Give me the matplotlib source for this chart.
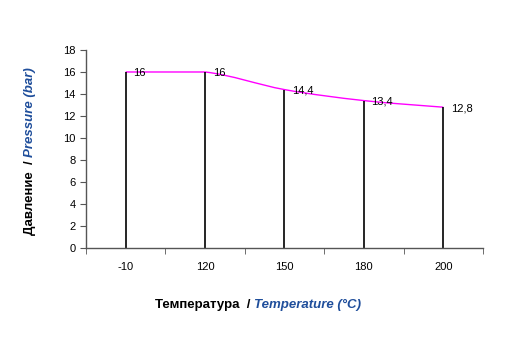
import numpy as np
import matplotlib
matplotlib.use("Agg")
import matplotlib.pyplot as plt
from matplotlib.path import Path
from matplotlib.patches import PathPatch

plt.rcParams["font.family"] = ["Liberation Sans", "DejaVu Sans"]

temps = ["-10", "120", "150", "180", "200"]
pressure = [16, 16, 14.4, 13.4, 12.8]
labels = ["16", "16", "14,4", "13,4", "12,8"]

BLUE = "#1f4e9b"


def smooth_path(x, y, k=1 / 6):
    # smoothed line like Excel: Catmull-Rom as cubic Bezier, control points
    # clamped to the segment so flat parts stay flat
    x = np.asarray(x, float)
    y = np.asarray(y, float)
    verts = [(x[0], y[0])]
    codes = [Path.MOVETO]
    n = len(x)
    for i in range(n - 1):
        p0 = i - 1 if i > 0 else i
        p3 = i + 2 if i + 2 < n else i + 1
        lo, hi = min(y[i], y[i + 1]), max(y[i], y[i + 1])
        c1y = np.clip(y[i] + (y[i + 1] - y[p0]) * k, lo, hi)
        c2y = np.clip(y[i + 1] - (y[p3] - y[i]) * k, lo, hi)
        c1 = (x[i] + (x[i + 1] - x[p0]) * k, c1y)
        c2 = (x[i + 1] - (x[p3] - x[i]) * k, c2y)
        verts += [c1, c2, (x[i + 1], y[i + 1])]
        codes += [Path.CURVE4] * 3
    return Path(verts, codes)


fig = plt.figure(figsize=(5.25, 3.54), dpi=100)
ax = fig.add_axes([0.1638, 0.2994, 0.7562, 0.5594])

pos = np.arange(len(temps))
ax.vlines(pos, 0, pressure, color="black", lw=1.2)
ax.add_patch(PathPatch(smooth_path(pos, pressure), fill=False,
                       edgecolor="#ff00ff", lw=1.0))

for p, v, s in zip(pos, pressure, labels):
    ax.annotate(s, (p, v), xytext=(5.5, -1), textcoords="offset points",
                ha="left", va="center", fontsize=8)

ax.set_xlim(-0.5, len(temps) - 0.5)
ax.set_ylim(0, 18)
ax.set_yticks(range(0, 19, 2))
ax.set_xticks(pos)
ax.set_xticklabels(temps)
ax.set_xticks(np.arange(-0.5, len(temps), 1), minor=True)
ax.tick_params(axis="x", which="major", length=0, pad=10, labelsize=8)
ax.tick_params(axis="x", which="minor", length=4, direction="out", color="#555555")
ax.tick_params(axis="y", length=4, direction="out", labelsize=8, color="#555555")
for side in ("top", "right"):
    ax.spines[side].set_visible(False)
for side in ("left", "bottom"):
    ax.spines[side].set_color("#555555")
    ax.spines[side].set_linewidth(1.0)

# axis titles with mixed styles
t1 = fig.text(0.058, 0.336, "Давление  / ", rotation=90, ha="center", va="bottom",
              fontsize=9.5, fontweight="bold", color="black")
ax.annotate("Pressure (bar)", xy=(0.5, 1), xycoords=t1, rotation=90,
            ha="center", va="bottom", fontsize=9.5, fontweight="bold",
            fontstyle="italic", color=BLUE, annotation_clip=False)

t2 = fig.text(0.295, 0.138, "Температура  / ", ha="left", va="center",
              fontsize=9.5, fontweight="bold", color="black")
ax.annotate("Temperature (°C)", xy=(1, 0.5), xycoords=t2, ha="left", va="center",
            fontsize=9.5, fontweight="bold", fontstyle="italic", color=BLUE,
            annotation_clip=False)

fig.savefig("out.png", dpi=100)
